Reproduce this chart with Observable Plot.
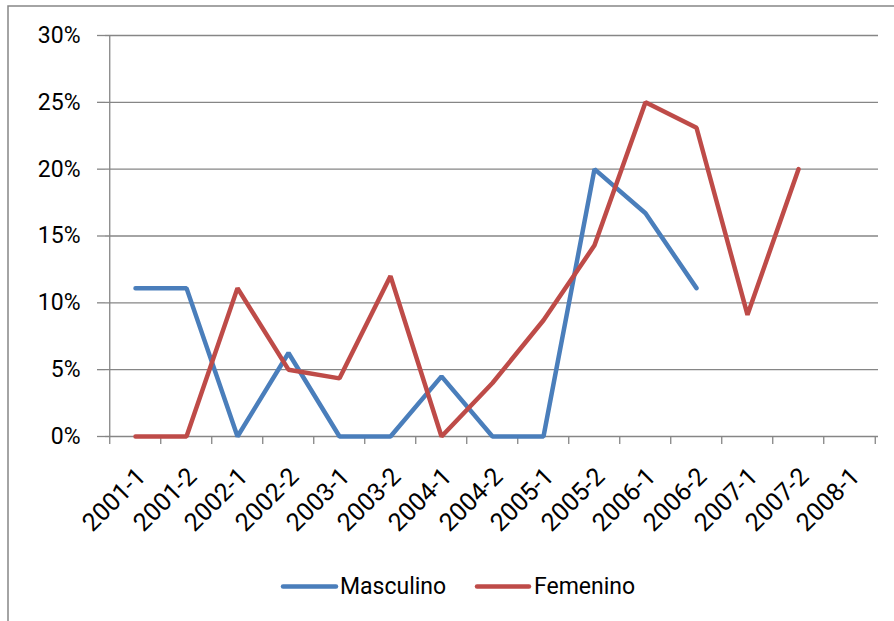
<!DOCTYPE html>
<html>
<head>
<meta charset="utf-8">
<script src="https://cdn.jsdelivr.net/npm/d3@7"></script>
<script src="https://cdn.jsdelivr.net/npm/@observablehq/plot@0.6"></script>
<style>
  html, body { margin: 0; padding: 0; background: #fff; }
  #chart { position: relative; width: 894px; height: 621px; overflow: hidden; }
</style>
</head>
<body>
<div id="chart"></div>
<script>
const categories = ["2001-1","2001-2","2002-1","2002-2","2003-1","2003-2","2004-1","2004-2","2005-1","2005-2","2006-1","2006-2","2007-1","2007-2","2008-1"];
const masculino = [11.1, 11.1, 0, 6.25, 0, 0, 4.5, 0, 0, 20, 16.7, 11.1, null, null, null];
const femenino  = [0, 0, 11.1, 5, 4.35, 12, 0, 4.0, 8.7, 14.3, 25, 23.1, 9.1, 20, null];
const seriesNames = ["Masculino", "Femenino"];
const seriesColors = ["#4A7EBB", "#BE4B48"];
const yTicks = [0, 5, 10, 15, 20, 25, 30];

const rows = [];
categories.forEach((c, i) => {
  rows.push({cat: c, series: seriesNames[0], value: masculino[i]});
  rows.push({cat: c, series: seriesNames[1], value: femenino[i]});
});

const W = 894, H = 621;
const mL = 105, mR = 16, mT = 35, mB = 185;
const step = (W - mL - mR) / categories.length;
const grid = "#868686";
const font = "Roboto, 'Open Sans', sans-serif";

const plot = Plot.plot({
  width: W, height: H,
  marginLeft: mL, marginRight: mR, marginTop: mT, marginBottom: mB,
  style: {fontFamily: font, fontSize: "23px", color: "#000", background: "transparent"},
  x: {type: "point", domain: categories, padding: 0.5},
  y: {domain: [0, 30]},
  color: {domain: seriesNames, range: seriesColors},
  marks: [
    Plot.gridY(yTicks, {stroke: grid, strokeOpacity: 1, strokeWidth: 1.3}),
    Plot.axisY(yTicks, {tickSize: 8, tickPadding: 17, stroke: grid, strokeWidth: 1.3, tickFormat: d => d + "%", label: null, fontSize: 23}),
    Plot.ruleX([categories[0]], {dx: -step / 2, stroke: grid, strokeWidth: 1.3}),
    Plot.ruleX(categories, {x: d => d, dx: -step / 2, y1: 0, y2: 0, insetBottom: -8, stroke: grid, strokeWidth: 1.3}),
    Plot.ruleX([categories[categories.length - 1]], {dx: step / 2, y1: 0, y2: 0, insetBottom: -8, stroke: grid, strokeWidth: 1.3}),
    Plot.axisX({tickSize: 0, tickRotate: -45, tickPadding: 36, dx: 6, label: null, fontSize: 25}),
    Plot.line(rows, {x: "cat", y: "value", z: "series", stroke: "series", strokeWidth: 4.5, strokeLinecap: "round", strokeLinejoin: "miter", defined: d => d.value != null})
  ]
});

document.getElementById("chart").appendChild(plot);

// outer chart border and legend
const svg = d3.select(plot);
svg.append("rect").attr("x", 8).attr("y", 6).attr("width", 1000).attr("height", 1000)
  .attr("fill", "none").attr("stroke", grid).attr("stroke-width", 1.5);

const legendPos = [{x1: 283, x2: 336, tx: 340}, {x1: 477, x2: 529, tx: 534}];
const leg = svg.append("g");
seriesNames.forEach((name, i) => {
  leg.append("line").attr("x1", legendPos[i].x1).attr("x2", legendPos[i].x2)
    .attr("y1", 586.5).attr("y2", 586.5).attr("stroke", seriesColors[i])
    .attr("stroke-width", 4.5).attr("stroke-linecap", "round");
  leg.append("text").attr("x", legendPos[i].tx).attr("y", 594)
    .attr("text-anchor", "start").attr("font-family", font)
    .attr("font-size", 23).attr("fill", "#000").text(name);
});
</script>
</body>
</html>
